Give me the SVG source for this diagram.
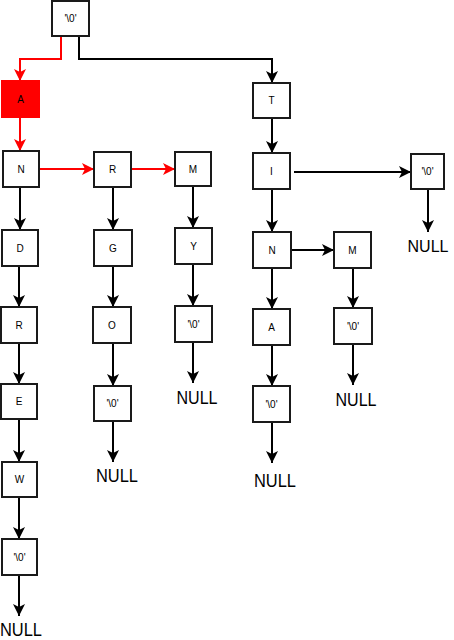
<svg xmlns="http://www.w3.org/2000/svg" width="454" height="640" viewBox="0 0 454 640">
<style>
.box{fill:#fff;stroke:#1a1a1a;stroke-width:2}
.red{fill:#f00;stroke:#f00;stroke-width:2}
.lbl{font-family:"Liberation Sans",Arial,sans-serif;font-size:10px;fill:#000;text-anchor:middle;dominant-baseline:central}
.null{font-family:"Liberation Sans",Arial,sans-serif;font-size:18px;fill:#000;text-anchor:middle}
.cb{fill:none;stroke:#000;stroke-width:2}
.cr{fill:none;stroke:#f00;stroke-width:2}
</style>
<defs>
<marker id="ab" viewBox="0 0 13 13" refX="12" refY="6.5" markerWidth="13" markerHeight="13" markerUnits="userSpaceOnUse" orient="auto"><path d="M0,0.5 L12,6.5 L0,12.5 L3,6.5 Z" fill="#000"/></marker>
<marker id="ar" viewBox="0 0 13 13" refX="12" refY="6.5" markerWidth="13" markerHeight="13" markerUnits="userSpaceOnUse" orient="auto"><path d="M0,0.5 L12,6.5 L0,12.5 L3,6.5 Z" fill="#f00"/></marker>
</defs>
<g id="connectors">
<path class="cr" d="M61,36 V59 H20 V81" marker-end="url(#ar)"/>
<path class="cb" d="M79,36 V59 H272 V83" marker-end="url(#ab)"/>
<path class="cr" d="M20,117 V151" marker-end="url(#ar)"/>
<path class="cr" d="M39,169 H94" marker-end="url(#ar)"/>
<path class="cr" d="M125,169 H175" marker-end="url(#ar)"/>
<path class="cb" d="M20,187 V230" marker-end="url(#ab)"/>
<path class="cb" d="M19,266 V307" marker-end="url(#ab)"/>
<path class="cb" d="M19,343 V384" marker-end="url(#ab)"/>
<path class="cb" d="M19,419 V462" marker-end="url(#ab)"/>
<path class="cb" d="M19,497 V539" marker-end="url(#ab)"/>
<path class="cb" d="M19,575 V616" marker-end="url(#ab)"/>
<path class="cb" d="M113,187 V230" marker-end="url(#ab)"/>
<path class="cb" d="M113,266 V307" marker-end="url(#ab)"/>
<path class="cb" d="M113,343 V386" marker-end="url(#ab)"/>
<path class="cb" d="M113,421 V462" marker-end="url(#ab)"/>
<path class="cb" d="M193,186 V228" marker-end="url(#ab)"/>
<path class="cb" d="M193,264 V306" marker-end="url(#ab)"/>
<path class="cb" d="M193,342 V383" marker-end="url(#ab)"/>
<path class="cb" d="M272,118 V153" marker-end="url(#ab)"/>
<path class="cb" d="M272,189 V232" marker-end="url(#ab)"/>
<path class="cb" d="M272,268 V309" marker-end="url(#ab)"/>
<path class="cb" d="M272,345 V386" marker-end="url(#ab)"/>
<path class="cb" d="M272,422 V463" marker-end="url(#ab)"/>
<path class="cb" d="M353,268 V308" marker-end="url(#ab)"/>
<path class="cb" d="M353,344 V385" marker-end="url(#ab)"/>
<path class="cb" d="M428,189 V232" marker-end="url(#ab)"/>
<path class="cb" d="M294,172 H411" marker-end="url(#ab)"/>
<path class="cb" d="M291,250 H334" marker-end="url(#ab)"/>
</g>
<g id="root"><rect class="box" x="52" y="1" width="37" height="35"/><text class="lbl" x="70.5" y="18.5">'\0'</text></g>
<g id="nA"><rect class="red" x="2" y="81" width="37" height="36"/><text class="lbl" x="20.5" y="99">A</text></g>
<g id="nN1"><rect class="box" x="3" y="151" width="36" height="36"/><text class="lbl" x="21" y="169">N</text></g>
<g id="nD"><rect class="box" x="2" y="230" width="36" height="36"/><text class="lbl" x="20" y="248">D</text></g>
<g id="nR1"><rect class="box" x="1" y="307" width="36" height="36"/><text class="lbl" x="19" y="325">R</text></g>
<g id="nE"><rect class="box" x="1" y="384" width="36" height="35"/><text class="lbl" x="19" y="401.5">E</text></g>
<g id="nW"><rect class="box" x="2" y="462" width="35" height="35"/><text class="lbl" x="19.5" y="479.5">W</text></g>
<g id="nZ1"><rect class="box" x="2" y="539" width="35" height="36"/><text class="lbl" x="19.5" y="557">'\0'</text></g>
<g id="null1"><text class="null" x="21" y="636" textLength="42" lengthAdjust="spacingAndGlyphs">NULL</text></g>
<g id="nR2"><rect class="box" x="94" y="152" width="37" height="35"/><text class="lbl" x="112.5" y="169.5">R</text></g>
<g id="nG"><rect class="box" x="94" y="230" width="38" height="36"/><text class="lbl" x="113" y="248">G</text></g>
<g id="nO"><rect class="box" x="93" y="307" width="38" height="36"/><text class="lbl" x="112" y="325">O</text></g>
<g id="nZ2"><rect class="box" x="94" y="386" width="37" height="35"/><text class="lbl" x="112.5" y="403.5">'\0'</text></g>
<g id="null2"><text class="null" x="117" y="482" textLength="42" lengthAdjust="spacingAndGlyphs">NULL</text></g>
<g id="nM1"><rect class="box" x="175" y="152" width="36" height="34"/><text class="lbl" x="193" y="169">M</text></g>
<g id="nY"><rect class="box" x="175" y="228" width="37" height="36"/><text class="lbl" x="193.5" y="246">Y</text></g>
<g id="nZ3"><rect class="box" x="175" y="306" width="37" height="36"/><text class="lbl" x="193.5" y="324">'\0'</text></g>
<g id="null3"><text class="null" x="197" y="404" textLength="41" lengthAdjust="spacingAndGlyphs">NULL</text></g>
<g id="nT"><rect class="box" x="253" y="83" width="37" height="35"/><text class="lbl" x="271.5" y="100.5">T</text></g>
<g id="nI"><rect class="box" x="253" y="153" width="37" height="36"/><text class="lbl" x="271.5" y="171">I</text></g>
<g id="nN2"><rect class="box" x="253" y="232" width="38" height="36"/><text class="lbl" x="272" y="250">N</text></g>
<g id="nA2"><rect class="box" x="253" y="309" width="37" height="36"/><text class="lbl" x="271.5" y="327">A</text></g>
<g id="nZ4"><rect class="box" x="253" y="386" width="37" height="36"/><text class="lbl" x="271.5" y="404">'\0'</text></g>
<g id="null4"><text class="null" x="275" y="487" textLength="42" lengthAdjust="spacingAndGlyphs">NULL</text></g>
<g id="nM2"><rect class="box" x="334" y="232" width="37" height="36"/><text class="lbl" x="352.5" y="250">M</text></g>
<g id="nZ5"><rect class="box" x="334" y="308" width="38" height="36"/><text class="lbl" x="353" y="326">'\0'</text></g>
<g id="null5"><text class="null" x="356" y="406" textLength="41" lengthAdjust="spacingAndGlyphs">NULL</text></g>
<g id="nZ6"><rect class="box" x="411" y="154" width="33" height="35"/><text class="lbl" x="427.5" y="171.5">'\0'</text></g>
<g id="null6"><text class="null" x="428" y="252" style="font-size:16px">NULL</text></g>
</svg>
